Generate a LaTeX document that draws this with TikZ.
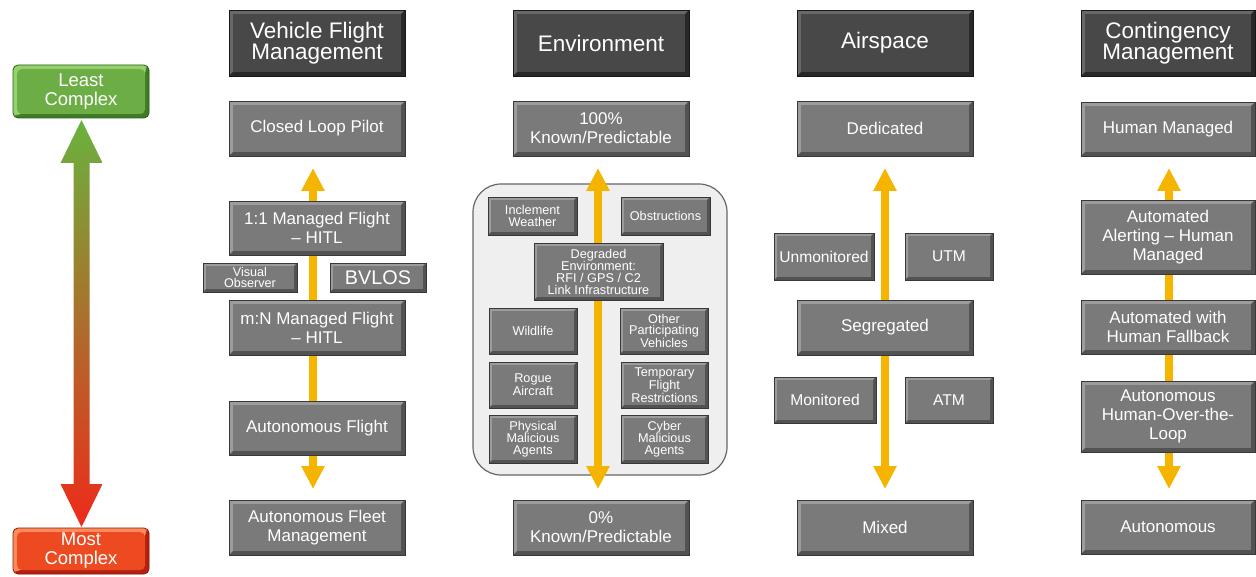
\documentclass[tikz,border=0pt]{standalone}
\usepackage{fontspec}
\setmainfont{Liberation Sans}
\usetikzlibrary{arrows.meta}
\definecolor{ayel}{HTML}{F5B400}
\definecolor{gface}{HTML}{7A7A7A}
\definecolor{glight}{HTML}{9C9C9C}
\definecolor{gdark}{HTML}{525252}
\definecolor{gline}{HTML}{383838}
\definecolor{hface}{HTML}{484848}
\definecolor{hlight}{HTML}{686868}
\definecolor{hdark}{HTML}{282828}
\definecolor{hline}{HTML}{181818}
\definecolor{grface}{HTML}{6CAE45}
\definecolor{grlight}{HTML}{94D26C}
\definecolor{grdark}{HTML}{3E7D25}
\definecolor{grline}{HTML}{2B5C18}
\definecolor{rdface}{HTML}{EE4A22}
\definecolor{rdlight}{HTML}{FF8A5A}
\definecolor{rddark}{HTML}{B52010}
\definecolor{rdline}{HTML}{8A1A0A}
\definecolor{contfill}{HTML}{EFEFEF}
\definecolor{contline}{HTML}{666666}
\definecolor{arrgreen}{HTML}{6AB23E}
\definecolor{arrorange}{HTML}{E98A2A}
\definecolor{arrred}{HTML}{EE2A1A}
\newcommand{\fsz}[2]{\fontsize{#1}{#2}\selectfont}
\newcommand{\bx}[7]{%
  \pgfmathsetmacro{\boxW}{#4-#2}\pgfmathsetmacro{\boxH}{#5-#3}%
  \pgfmathsetmacro{\boxX}{(#2+#4)/2}\pgfmathsetmacro{\boxY}{(#3+#5)/2}%
  \node[#6, minimum width=\boxW pt, minimum height=\boxH pt] (#1) at (\boxX,\boxY) {#7};}
\tikzset{
  bevw/.store in=\bevw, bevw=4pt,
  bevel/.style n args={3}{fill=#2, path picture={
    \fill[#3] (path picture bounding box.south west) -- (path picture bounding box.south east)
      -- (path picture bounding box.north east)
      -- ([shift={(-\bevw,-\bevw)}]path picture bounding box.north east)
      -- ([shift={(-\bevw,\bevw)}]path picture bounding box.south east)
      -- ([shift={(\bevw,\bevw)}]path picture bounding box.south west) -- cycle;
    \fill[#1] ([shift={(\bevw,-\bevw)}]path picture bounding box.north west)
      rectangle ([shift={(-\bevw,\bevw)}]path picture bounding box.south east);
  }},
  base/.style={rectangle, inner sep=0pt, outer sep=0pt, align=center, text=white, line width=0.8pt},
  gbox/.style={base, draw=gline, bevel={gface}{glight}{gdark}, font=\fsz{17}{19}},
  sbox/.style={gbox, bevw=3pt, font=\fsz{12.7}{11.6}},
  abox/.style={gbox, bevw=3pt, font=\fsz{15.6}{17}},
  hbox/.style={base, draw=hline, bevel={hface}{hlight}{hdark}, font=\fsz{22.5}{21}},
  grbox/.style={base, draw=grline, rounded corners=5pt, bevel={grface}{grlight}{grdark}, font=\fsz{18.5}{19}},
  rdbox/.style={base, draw=rdline, rounded corners=5pt, bevel={rdface}{rdlight}{rddark}, font=\fsz{18.5}{19}},
  yarrow/.style={draw=ayel, line width=8pt, {Triangle[width=22pt,length=23pt]}-{Triangle[width=22pt,length=23pt]}},
  container/.style={draw=contline, fill=contfill, line width=1.2pt, rounded corners=28pt},
}
\begin{document}
\begin{tikzpicture}[x=1pt,y=-1pt]
\useasboundingbox (0,0) rectangle (1256,577);

% environment container
\draw[container] (473,184) rectangle (727,475);

% complexity arrow
\coordinate (gtop) at (81.5,120);
\coordinate (gbot) at (81.5,527);
\shade[top color=arrgreen, middle color=arrorange, bottom color=arrred]
  (gtop) -- (102.5,163) -- (89.5,163) -- (89.5,484) -- (102.5,484) -- (gbot)
  -- (60.5,484) -- (73.5,484) -- (73.5,163) -- (60.5,163) -- cycle;

% yellow arrows
\coordinate (a1t) at (313,168); \coordinate (a1b) at (313,489);
\coordinate (a2t) at (598,168); \coordinate (a2b) at (598,489);
\coordinate (a3t) at (885,168); \coordinate (a3b) at (885,489);
\coordinate (a4t) at (1169,168); \coordinate (a4b) at (1169,489);
\draw[yarrow] (a1t) -- (a1b);
\draw[yarrow] (a2t) -- (a2b);
\draw[yarrow] (a3t) -- (a3b);
\draw[yarrow] (a4t) -- (a4b);

% left scale
\bx{lc}{13}{65}{149}{118}{grbox}{Least\\Complex}
\bx{mc}{13}{528}{149}{574}{rdbox}{Most\\Complex}

% column 1
\bx{h1}{229}{10}{405}{76}{hbox}{Vehicle Flight\\Management}
\bx{c1a}{229}{101}{405}{156}{gbox}{Closed Loop Pilot}
\bx{c1b}{229}{201}{405}{255}{gbox}{1:1 Managed Flight\\– HITL}
\bx{vo}{203}{263}{297}{292}{gbox, bevw=3pt, font=\fsz{12.6}{11.5}}{Visual\\Observer}
\bx{bv}{330}{263}{426}{292}{gbox, bevw=3pt, font=\fsz{19.8}{20}}{BVLOS}
\bx{c1c}{229}{300}{405}{355}{gbox}{m:N Managed Flight\\– HITL}
\bx{c1d}{229}{401}{405}{455}{gbox}{Autonomous Flight}
\bx{c1e}{229}{500}{405}{555}{gbox}{Autonomous Fleet\\Management}

% column 2
\bx{h2}{513}{10}{689}{76}{hbox}{Environment}
\bx{k100}{513}{101}{689}{156}{gbox}{100\%\\Known/Predictable}
\bx{iw}{488}{197}{577}{235}{sbox}{Inclement\\Weather}
\bx{ob}{621}{197}{710}{235}{sbox}{Obstructions}
\bx{de}{534}{243}{663}{300}{sbox}{Degraded\\Environment:\\RFI / GPS / C2\\Link Infrastructure}
\bx{wl}{489}{308}{577}{354}{sbox}{Wildlife}
\bx{op}{620}{308}{708}{354}{sbox}{Other\\Participating\\Vehicles}
\bx{ra}{489}{362}{577}{408}{sbox}{Rogue\\Aircraft}
\bx{tf}{621}{362}{708}{408}{sbox}{Temporary\\Flight\\Restrictions}
\bx{pm}{489}{415}{577}{463}{sbox}{Physical\\Malicious\\Agents}
\bx{cm}{621}{415}{708}{463}{sbox}{Cyber\\Malicious\\Agents}
\bx{k0}{513}{500}{689}{555}{gbox}{0\%\\Known/Predictable}

% column 3
\bx{h3}{797}{10}{973}{76}{hbox}{Airspace}
\bx{dd}{797}{101}{973}{156}{gbox}{Dedicated}
\bx{um}{774}{233}{874}{280}{abox}{Unmonitored}
\bx{utm}{905}{233}{993}{280}{abox}{UTM}
\bx{sg}{797}{300}{973}{355}{gbox}{Segregated}
\bx{mo}{774}{377}{876}{423}{abox}{Monitored}
\bx{atm}{905}{377}{993}{423}{abox}{ATM}
\bx{mx}{797}{500}{973}{555}{gbox}{Mixed}

% column 4
\bx{h4}{1081}{10}{1255}{76}{hbox}{Contingency\\Management}
\bx{hm}{1081}{102}{1255}{156}{gbox}{Human Managed}
\bx{aa}{1081}{200}{1255}{274}{gbox}{Automated\\Alerting – Human\\Managed}
\bx{ah}{1081}{300}{1255}{354}{gbox}{Automated with\\Human Fallback}
\bx{ao}{1081}{381}{1255}{452}{gbox}{Autonomous\\Human-Over-the-\\Loop}
\bx{au}{1081}{500}{1255}{554}{gbox}{Autonomous}
\end{tikzpicture}
\end{document}
